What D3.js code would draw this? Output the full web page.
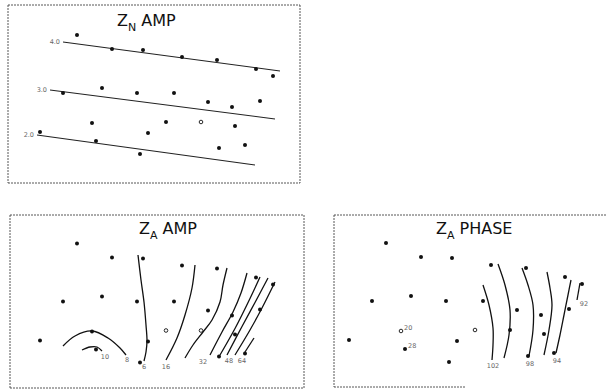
<!DOCTYPE html>
<html><head><meta charset="utf-8">
<script src="https://cdn.jsdelivr.net/npm/d3@7/dist/d3.min.js"></script>
<style>html,body{margin:0;padding:0;background:#fff;}svg{display:block;}</style>
</head><body>
<svg id="chart" width="607" height="392"></svg>
<script>
// ---- station network (km east, km north) ----
const stationE = [67,102,133,172,207,246,263, 53,92,127,164,198,222,250, 82,156,191,225, 30,138,86,130,209,235];
const stationN = [125,111,110,103,100,91,84, 67,72,67,67,58,53,59, 37,38,38,34, 28,27,19,6,12,15];

// ---- Z_N amplitude: stations + fitted trend lines ----
const znHollow = [16];
const znLineLabels = ["4.0","3.0","2.0"];
const znLineE0 = [53,40,27];
const znLineN0 = [118,70,25];
const znLineE1 = [270,265,245];
const znLineN1 = [89,41,-5];

// ---- Z_A amplitude: stations + contours ----
const zaAmpHollow = [15,16];
const zaAmpLabels = ["8","10","6","16","","32","48","","64",""];
const zaAmpContours = [
  [[53,22.5],[65,32.5],[82,37.5],[98,30.5],[110,20.5],[116,13.5]],
  [[72,18.5],[80,21.5],[87,21.5],[92,17.5]],
  [[128,113.5],[131,88.5],[134,66.5],[136,43.5],[137,27.5],[136,16.5],[134,7.5]],
  [[185,103.5],[182,80.5],[175,53.5],[167,30.5],[156,8.5]],
  [[217,100.5],[213,83.5],[210,66.5],[202,48.5],[193,36.5],[183,23.5],[175,10.5]],
  [[237,95.5],[231,75.5],[223,56.5],[212,36.5],[200,13.5]],
  [[250,91.5],[240,70],[225,40],[210,13.5]],
  [[258,90.5],[245,66],[232,42],[217,13.5]],
  [[265,86.5],[252,60.5],[240,38.5],[225,13.5]],
  [[244,30.5],[235,16.5]]
];
const zaAmpLabelE = [117,95,134,156,0,193,219,0,232,0];
const zaAmpLabelN = [8.5,11.5,1.5,1.5,0,6.5,7.5,0,7.5,0];

// ---- Z_A phase: stations + contours ----
const zaPhHollow = [14,15];
const zaPhStationNotes = {14:"20", 20:"28"};
const zaPhLabels = ["102","","98","","94","92"];
const zaPhContours = [
  [[164,83],[170,63],[174,40],[174,23],[173,8]],
  [[179,104],[186,83],[191,58],[190,33],[185,10]],
  [[203,100],[209,83],[214,63],[214,38],[210,12]],
  [[228,96],[231,80],[233,63],[230,38],[225,13]],
  [[252,88],[249,73],[245,53],[241,33],[237,15]],
  [[261,85],[258,68]]
];
const zaPhLabelE = [174,0,211,0,238,265];
const zaPhLabelN = [2,0,4,0,7,64];

// ---- layout ----
const svg = d3.select("#chart");
const FONT = "'DejaVu Sans', Verdana, sans-serif";

function panelScales(ox, oy){
  return {
    x: d3.scaleLinear().domain([0,300]).range([10+ox, 310+ox]),
    y: d3.scaleLinear().domain([0,160]).range([160+oy, oy])
  };
}

function frame(x0,y0,x1,y1,opts){
  const g = svg.append("g").attr("stroke","#444").attr("stroke-width",0.9)
    .attr("stroke-dasharray","2,1").attr("fill","none");
  g.append("line").attr("x1",x0).attr("y1",y0).attr("x2",x1).attr("y2",y0);
  if(!opts || !opts.noLeft) g.append("line").attr("x1",x0).attr("y1",y0).attr("x2",x0).attr("y2",y1);
  const bx1 = (opts && opts.bottomTo) ? opts.bottomTo : x1;
  g.append("line").attr("x1",x0).attr("y1",y1).attr("x2",bx1).attr("y2",y1);
  if(!opts || !opts.noRight) g.append("line").attr("x1",x1).attr("y1",y0).attr("x2",x1).attr("y2",y1);
}

function title(x, y, sub, rest){
  const t = svg.append("text").attr("x",x).attr("y",y).attr("font-family",FONT)
    .attr("font-size",16).attr("fill","#111");
  t.append("tspan").text("Z");
  t.append("tspan").attr("font-size",11).attr("dy",5).text(sub);
  t.append("tspan").attr("dy",-5).attr("dx",5).text(rest);
}

function stations(s, hollow, r){
  const g = svg.append("g");
  stationE.forEach((e,i)=>{
    const h = hollow.includes(i);
    g.append("circle").attr("cx",s.x(e)).attr("cy",s.y(stationN[i])).attr("r",h?1.8:2)
      .attr("fill",h?"#fff":"#111").attr("stroke","#111").attr("stroke-width",h?0.9:0);
  });
}

function smallLabel(x,y,txt,anchor){
  svg.append("text").attr("x",x).attr("y",y).attr("font-family",FONT).attr("font-size",6.5)
    .attr("fill","#666").attr("text-anchor",anchor||"middle").text(txt);
}

const line = d3.line().curve(d3.curveCatmullRom.alpha(0.5));

// ===== Panel 1: Z_N AMP =====
frame(8,5,300,183);
title(117,26,"N","AMP");
const s1 = panelScales(0,0);
znLineLabels.forEach((lab,i)=>{
  svg.append("line").attr("x1",s1.x(znLineE0[i])).attr("y1",s1.y(znLineN0[i]))
    .attr("x2",s1.x(znLineE1[i])).attr("y2",s1.y(znLineN1[i]))
    .attr("stroke","#222").attr("stroke-width",1.1);
  smallLabel(s1.x(znLineE0[i])-3, s1.y(znLineN0[i])+2, lab, "end");
});
stations(s1, znHollow);

// ===== Panel 2: Z_A AMP =====
frame(10,215,304,388);
title(139,234,"A","AMP");
const s2 = panelScales(0,208.5);
zaAmpContours.forEach((pts,i)=>{
  svg.append("path").attr("d", line(pts.map(p=>[s2.x(p[0]), s2.y(p[1])])))
    .attr("fill","none").attr("stroke","#111").attr("stroke-width",1.3);
  if(zaAmpLabels[i]) smallLabel(s2.x(zaAmpLabelE[i]), s2.y(zaAmpLabelN[i])+2, zaAmpLabels[i]);
});
stations(s2, zaAmpHollow);

// ===== Panel 3: Z_A PHASE =====
frame(334,215,640,387,{noRight:true,bottomTo:465});
title(436,234,"A","PHASE");
const s3 = panelScales(309,208);
zaPhContours.forEach((pts,i)=>{
  svg.append("path").attr("d", line(pts.map(p=>[s3.x(p[0]), s3.y(p[1])])))
    .attr("fill","none").attr("stroke","#111").attr("stroke-width",1.3);
  if(zaPhLabels[i]) smallLabel(s3.x(zaPhLabelE[i]), s3.y(zaPhLabelN[i])+2, zaPhLabels[i]);
});
stations(s3, zaPhHollow);
Object.keys(zaPhStationNotes).forEach(k=>{
  const i = +k;
  smallLabel(s3.x(stationE[i])+3, s3.y(stationN[i])-1, zaPhStationNotes[k], "start");
});
</script>
</body></html>
